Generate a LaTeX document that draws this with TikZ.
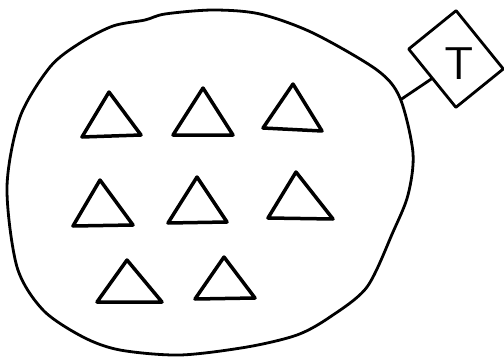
\documentclass[tikz,border=0pt]{standalone}
\usetikzlibrary{intersections}
\begin{document}
\begin{tikzpicture}[x=1pt,y=-1pt,
  blobline/.style={line width=2.8pt,line join=round,line cap=round},
  tri/.style={line width=3.5pt,line join=round,line cap=round},
  tbox/.style={draw,line width=2.8pt,line join=round,minimum width=61pt,minimum height=75pt,rotate=39,inner sep=0pt}]
\useasboundingbox (0,0) rectangle (504,359);
% blob
\draw[blobline,name path=blob] plot[smooth cycle,tension=0.5] coordinates {
 (213,10) (260,14) (313,33) (377,70) (400,98) (413,153) (408,195) (393,232) (367,287)
 (330,317) (297,335) (247,347) (180,355) (120,350) (83,337) (43,310) (17,267) (7,187)
 (20,117) (50,67) (80,43) (113,26) (145,20) (165,14)};
% T box
\node[tbox] (D) at (456,59) {};
\node[font=\fontsize{46}{46}\sffamily] (T) at (459,64) {T};
\path[name path=conn] (D.west) -- (372,119);
\path[name intersections={of=blob and conn,by=attach}];
\draw[blobline] (attach) -- (D.west);
% triangles
\draw[tri] (109,92) -- (82,137) -- (141,135) -- cycle;
\draw[tri] (203,88) -- (173,135) -- (233,135) -- cycle;
\draw[tri] (293,84) -- (263,128) -- (322,131) -- cycle;
\draw[tri] (100,180) -- (73,226) -- (133,225) -- cycle;
\draw[tri] (197,177) -- (168,223) -- (227,222) -- cycle;
\draw[tri] (296,172) -- (268,218) -- (333,219) -- cycle;
\draw[tri] (127,260) -- (97,302) -- (162,302) -- cycle;
\draw[tri] (224,257) -- (195,299) -- (255,298) -- cycle;
\end{tikzpicture}
\end{document}
